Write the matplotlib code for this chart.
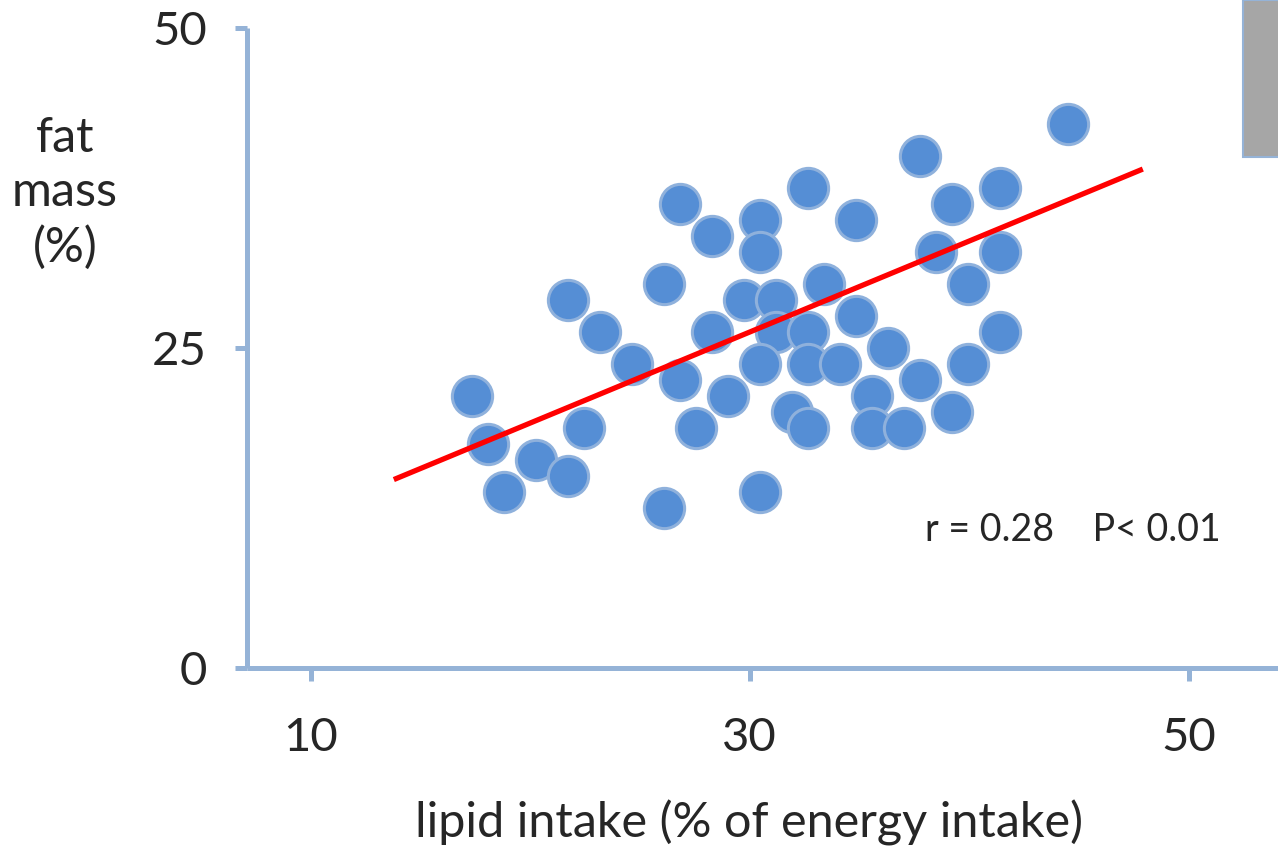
import matplotlib
matplotlib.use('Agg')
import matplotlib.pyplot as plt
from matplotlib.patches import Rectangle

plt.rcParams['font.family'] = ['Lato', 'DejaVu Sans']

# lipid intake (% of energy intake) vs fat mass (%)
lipid = [44.50, 37.76, 32.66, 41.40, 26.83, 39.22, 30.47, 34.84, 28.28, 30.47,
         38.49, 41.40, 26.10, 33.39, 39.95, 21.72, 29.74, 31.20, 34.84, 23.18,
         28.28, 31.20, 32.66, 41.40, 24.64, 30.47, 32.66, 34.12, 39.95, 36.30,
         26.83, 37.76, 17.35, 29.01, 35.57, 31.93, 39.22, 18.08, 22.45, 27.55,
         32.66, 35.57, 37.03, 20.27, 21.72, 18.81, 30.47, 26.10]
fat = [42.5, 40.0, 37.5, 37.5, 36.25, 36.25, 35.0, 35.0, 33.75, 32.5,
       32.5, 32.5, 30.0, 30.0, 30.0, 28.75, 28.75, 28.75, 27.5, 26.25,
       26.25, 26.25, 26.25, 26.25, 23.75, 23.75, 23.75, 23.75, 23.75, 25.0,
       22.5, 22.5, 21.25, 21.25, 21.25, 20.0, 20.0, 17.5, 18.75, 18.75,
       18.75, 18.75, 18.75, 16.25, 15.0, 13.75, 13.75, 12.5]

# trend line end points
fit_x = [13.9, 47.8]
fit_y = [14.8, 38.9]

xticks = [10, 30, 50]
yticks = [0, 25, 50]

axis_col = '#95B3D7'
text_col = '#262626'

fig = plt.figure(figsize=(12.78, 8.51), dpi=100)
ax = fig.add_axes([247 / 1278, 183 / 851, 1031 / 1278, 640 / 851])

ax.scatter(lipid, fat, s=840, color='#558ED5', edgecolors='#8FB1DC',
           linewidths=2.2, zorder=3, clip_on=False)
ax.plot(fit_x, fit_y, color='#FF0000', lw=3.8, zorder=4)

ax.set_xlim(7.10, 54.07)
ax.set_ylim(0, 50)
ax.set_xticks(xticks)
ax.set_yticks(yticks)

for s in ['top', 'right']:
    ax.spines[s].set_visible(False)
for s in ['left', 'bottom']:
    ax.spines[s].set_color(axis_col)
    ax.spines[s].set_linewidth(3.6)
    ax.spines[s].set_capstyle('butt')

ax.tick_params(axis='both', colors=axis_col, width=3.6, length=9,
               labelcolor=text_col, labelsize=34)
ax.tick_params(axis='x', pad=26)
ax.tick_params(axis='y', pad=20)

ax.set_xlabel('lipid intake (% of energy intake)', fontsize=35,
              color=text_col, labelpad=30)
ax.xaxis.label.set_x(0.487)
fig.text(65 / 1278, 1 - 193 / 851, 'fat\nmass\n(%)', fontsize=35,
         color=text_col, ha='center', va='center', linespacing=1.3)

ax.text(38.0, 10.8, 'r = 0.28    P< 0.01', fontsize=27, color=text_col,
        va='center', ha='left')

# gray block cut at the top right corner
fig.patches.append(Rectangle((1243 / 1278, 1 - 157 / 851), 40 / 1278, 157 / 851,
                             transform=fig.transFigure, facecolor='#A6A6A6',
                             edgecolor=axis_col, lw=1.5))

fig.savefig('out.png', dpi=100)
